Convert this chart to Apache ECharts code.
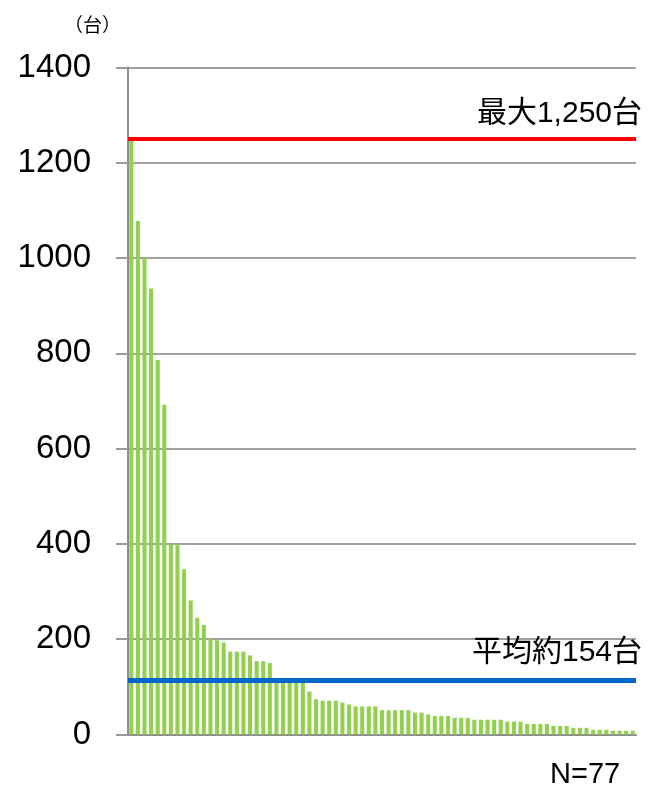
<!DOCTYPE html>
<html>
<head>
<meta charset="utf-8">
<script src="https://cdn.jsdelivr.net/npm/echarts@6/dist/echarts.min.js"></script>
<style>
html,body{margin:0;padding:0;background:#fff;}
#chart{width:651px;height:787px;}
</style>
</head>
<body>
<div id="chart"></div>
<script>
// ---- data ----
const categories = Array.from({length: 77}, (_, i) => String(i + 1));
const values = [
  1250, 1078, 1000, 936, 786, 692, 399, 399, 347, 281,
  245, 230, 201, 198, 193, 174, 174, 174, 166, 154,
  154, 150, 118, 116, 114, 112, 110, 90, 74, 71,
  71, 71, 67, 63, 59, 59, 59, 59, 51, 51,
  51, 51, 51, 46, 46, 42, 39, 39, 39, 35,
  35, 35, 31, 31, 31, 31, 31, 27, 27, 27,
  22, 22, 22, 22, 18, 18, 18, 14, 14, 14,
  10, 10, 10, 8, 8, 8, 8
];
const yTicks = [0, 200, 400, 600, 800, 1000, 1200, 1400];
const maxLineValue = [1250];
const avgLineValue = [114];
const maxLabel = '最大1,250台';
const avgLabel = '平均約154台';
const unitLabel = '（台）';
const nLabel = 'N=77';

const FONT = '"Liberation Sans", "Noto Sans CJK JP", sans-serif';

const chart = echarts.init(document.getElementById('chart'));
chart.setOption({
  animation: false,
  backgroundColor: '#fff',
  grid: {left: 128, right: 15, top: 67.5, bottom: 52.5, containLabel: false},
  xAxis: {
    type: 'category',
    data: categories,
    axisLine: {show: true, lineStyle: {color: '#8c8c8c', width: 2}},
    axisTick: {show: false},
    axisLabel: {show: false},
    splitLine: {show: false}
  },
  yAxis: {
    type: 'value',
    min: yTicks[0],
    max: yTicks[yTicks.length - 1],
    interval: 200,
    axisLine: {show: true, lineStyle: {color: '#8c8c8c', width: 2}},
    axisTick: {show: true, length: 12, lineStyle: {color: '#9a9a9a', width: 2}},
    axisLabel: {color: '#000', fontSize: 33, fontFamily: FONT, margin: 37,
                formatter: v => String(v)},
    splitLine: {show: true, lineStyle: {color: '#a0a0a0', width: 2}}
  },
  series: [{
    type: 'bar',
    data: values,
    barCategoryGap: '38%',
    itemStyle: {color: '#92D050'},
    markLine: {
      silent: true,
      symbol: ['none', 'none'],
      data: [
        {
          yAxis: maxLineValue[0],
          lineStyle: {color: '#FF0000', width: 4, type: 'solid'},
          label: {show: true, position: 'insideEndTop', formatter: maxLabel,
                  color: '#000', fontSize: 30, fontFamily: FONT, distance: 10, offset: [16, 0]}
        },
        {
          yAxis: avgLineValue[0],
          lineStyle: {color: '#0066CC', width: 5, type: 'solid'},
          label: {show: true, position: 'insideEndTop', formatter: avgLabel,
                  color: '#000', fontSize: 30, fontFamily: FONT, distance: 12, offset: [18, 0]}
        }
      ]
    }
  }],
  graphic: [
    {type: 'text', left: 64, top: 17,
     style: {text: unitLabel, fontSize: 19, fontFamily: FONT, fill: '#000'}},
    {type: 'text', left: 550, top: 760,
     style: {text: nLabel, fontSize: 29, fontFamily: FONT, fill: '#000'}}
  ]
});
</script>
</body>
</html>
